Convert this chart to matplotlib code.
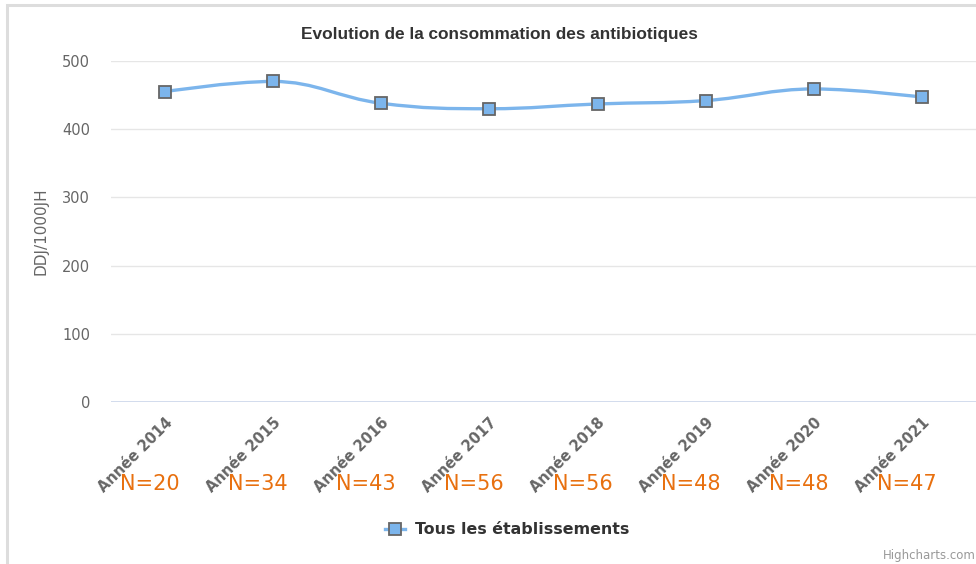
import matplotlib
matplotlib.use("Agg")
from matplotlib import pyplot as plt
from matplotlib.path import Path
from matplotlib.patches import PathPatch, Rectangle
from matplotlib.lines import Line2D
import matplotlib.transforms as mtransforms

years = ['Année 2014', 'Année 2015', 'Année 2016', 'Année 2017',
         'Année 2018', 'Année 2019', 'Année 2020', 'Année 2021']
counts = ['N=20', 'N=34', 'N=43', 'N=56', 'N=56', 'N=48', 'N=48', 'N=47']
ddj = [455, 470, 438, 430, 437, 442, 459, 447]
yticks = [0, 100, 200, 300, 400, 500]

line_color = '#7cb5ec'
W, H = 976, 564
plt.rcParams['font.family'] = 'DejaVu Sans'


def spline_path(xs, ys, smoothing=1.5):
    # highcharts style spline, built as cubic bezier segments
    denom = smoothing + 1
    left = [None] * len(xs)
    right = [None] * len(xs)
    for i in range(1, len(xs) - 1):
        lx = (smoothing * xs[i] + xs[i - 1]) / denom
        ly = (smoothing * ys[i] + ys[i - 1]) / denom
        rx = (smoothing * xs[i] + xs[i + 1]) / denom
        ry = (smoothing * ys[i] + ys[i + 1]) / denom
        corr = (ry - ly) * (rx - xs[i]) / (rx - lx) + ys[i] - ry
        ly += corr
        ry += corr
        if ly > max(ys[i - 1], ys[i]):
            ly = max(ys[i - 1], ys[i]); ry = 2 * ys[i] - ly
        elif ly < min(ys[i - 1], ys[i]):
            ly = min(ys[i - 1], ys[i]); ry = 2 * ys[i] - ly
        if ry > max(ys[i], ys[i + 1]):
            ry = max(ys[i], ys[i + 1]); ly = 2 * ys[i] - ry
        elif ry < min(ys[i], ys[i + 1]):
            ry = min(ys[i], ys[i + 1]); ly = 2 * ys[i] - ry
        left[i] = (lx, ly)
        right[i] = (rx, ry)
    verts = [(xs[0], ys[0])]
    codes = [Path.MOVETO]
    for i in range(1, len(xs)):
        c1 = right[i - 1] or (xs[i - 1], ys[i - 1])
        c2 = left[i] or (xs[i], ys[i])
        verts += [c1, c2, (xs[i], ys[i])]
        codes += [Path.CURVE4] * 3
    return Path(verts, codes)


fig = plt.figure(figsize=(W / 100, H / 100), dpi=100)
fig.patch.set_facecolor('white')

# frame of the chart container
fig.patches.append(Rectangle((6.5 / W, -0.1), 1.2, (H - 5) / H + 0.1,
                             transform=fig.transFigure, fill=False,
                             edgecolor='#dddddd', linewidth=2.2))

ax = fig.add_axes([111 / W, 1 - 402 / H, (976 - 111) / W, (402 - 61) / H])
x = list(range(len(years)))
ax.set_xlim(-0.5, len(years) - 0.5)
ax.set_ylim(0, 500)
for s in ax.spines.values():
    s.set_visible(False)
ax.set_yticks(yticks)
ax.set_yticklabels([str(v) for v in yticks], color='#666666', fontsize=10.5)
ax.tick_params(axis='y', length=0, pad=15)
ax.grid(axis='y', color='#e6e6e6', linewidth=1)
ax.axhline(0, color='#ccd6eb', linewidth=1.2, zorder=1)
ax.set_axisbelow(True)
ax.set_xticks(x)
ax.set_xticklabels([])
ax.tick_params(axis='x', length=0)

ax.set_ylabel('DDJ/1000JH', color='#666666', fontsize=11, labelpad=10)

ax.add_patch(PathPatch(spline_path(x, ddj), fill=False, edgecolor=line_color,
                       linewidth=2.4, zorder=3, capstyle='round'))
ax.plot(x, ddj, linestyle='none', marker='s', markersize=9,
        markerfacecolor=line_color, markeredgecolor='#666666',
        markeredgewidth=1.3, zorder=4, clip_on=False)

# rotated category labels, anchored at their right end
offset = mtransforms.ScaledTranslation(0 / 100, -13 / 100, fig.dpi_scale_trans)
trans = mtransforms.blended_transform_factory(ax.transData, ax.transAxes) + offset
for xi, lab in zip(x, years):
    ax.text(xi, 0, lab, transform=trans, rotation=45, ha='right', va='top',
            rotation_mode='anchor', fontsize=10.5, fontweight='bold',
            color='#666666')

ntrans = mtransforms.blended_transform_factory(ax.transData, fig.transFigure)
for xi, n in zip(x, counts):
    ax.text(xi - 0.14, 1 - 484 / H, n, transform=ntrans, ha='center',
            va='center', fontsize=15, color='#e8700f')

fig.text(499 / W, 1 - 34 / H, 'Evolution de la consommation des antibiotiques',
         ha='center', va='center', fontsize=12.4, fontweight='bold',
         color='#333333', family=['Liberation Sans Narrow', 'Liberation Sans'])

# legend
ly = 1 - 529 / H
fig.add_artist(Line2D([385 / W, 405 / W], [ly, ly], color=line_color,
                      linewidth=2.4, transform=fig.transFigure))
fig.add_artist(Line2D([395 / W], [ly], marker='s', markersize=9,
                      markerfacecolor=line_color, markeredgecolor='#666666',
                      markeredgewidth=1.3, transform=fig.transFigure))
fig.text(415 / W, ly, 'Tous les établissements', ha='left', va='center',
         fontsize=11.4, fontweight='bold', color='#333333')

fig.text(976 / W, 1 - 556 / H, 'Highcharts.com', ha='right', va='center',
         fontsize=8.5, color='#999999')

fig.savefig('out.png', dpi=100)
